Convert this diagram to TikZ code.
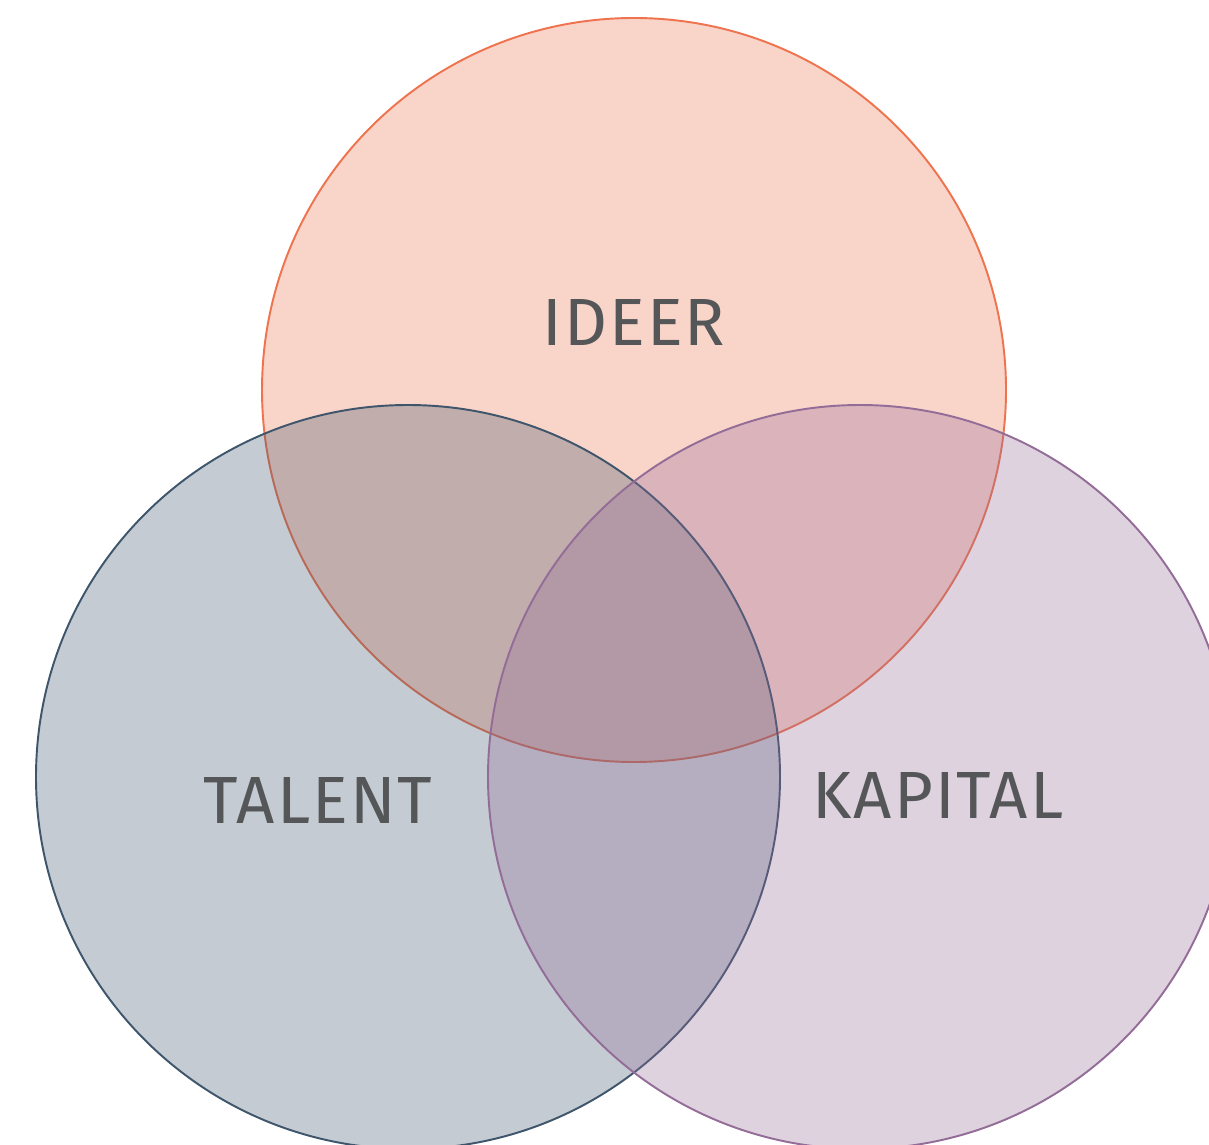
\documentclass[tikz,border=0pt]{standalone}
\usepackage{fontspec}
\setmainfont[LetterSpace=3]{Fira Sans}

\definecolor{ideercol}{HTML}{EE734E}
\definecolor{talentcol}{HTML}{3E556C}
\definecolor{kapitalcol}{HTML}{946C98}
\definecolor{labelcol}{HTML}{545658}

\begin{document}
\begin{tikzpicture}[x=0.02cm,y=0.02cm,
    set/.style={line width=1.1pt, fill opacity=.3},
    setlabel/.style={text=labelcol, font=\fontsize{38}{40}\selectfont}]
    \useasboundingbox (0,0) rectangle (1209,1144);
    \fill[white] (0,0) rectangle (1209,1144);
    \clip (0,0) rectangle (1209,1144);
    % the three sets
    \draw[set, draw=ideercol, fill=ideercol] (634,754) circle [radius=372];
    \draw[set, draw=talentcol, fill=talentcol] (408,367) circle [radius=372];
    \draw[set, draw=kapitalcol, fill=kapitalcol] (860,367) circle [radius=372];
    % labels
    \node[setlabel] (ideer) at (634,821) {IDEER};
    \node[setlabel] (talent) at (318,344) {TALENT};
    \node[setlabel] (kapital) at (938,349) {KAPITAL};
  \end{tikzpicture}
\end{document}
